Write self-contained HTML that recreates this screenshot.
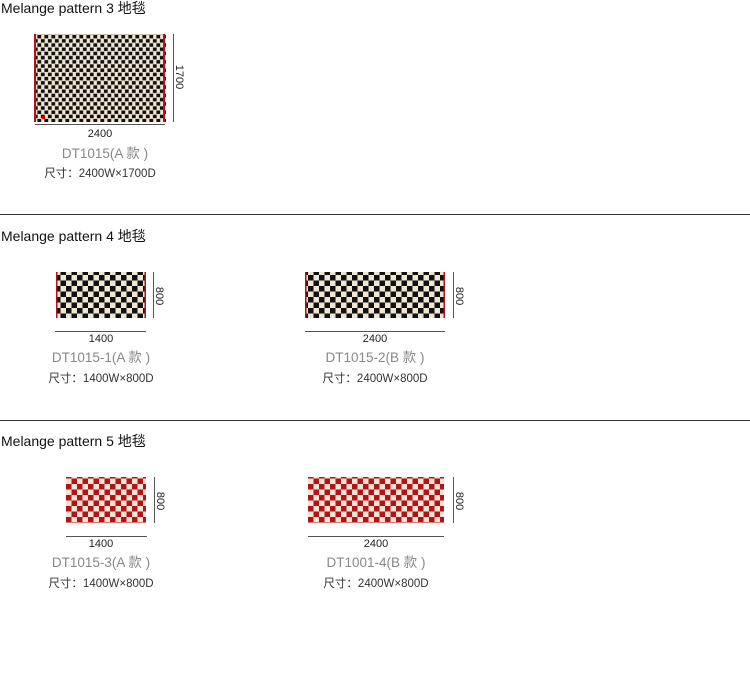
<!DOCTYPE html>
<html><head><meta charset="utf-8"><style>
body{margin:0;background:#fff;}
svg{display:block;font-family:"Liberation Sans","Noto Sans CJK SC",sans-serif;}
</style></head><body>
<svg width="750" height="687" viewBox="0 0 750 687">
<defs>
<pattern id="dots" x="37" y="34.5" width="7" height="8.4" patternUnits="userSpaceOnUse">
<rect width="7" height="8.4" fill="#f1e6d4"/><rect x="0.4" y="0.4" width="3.8" height="3.5" fill="#111"/><rect x="3.9" y="4.6" width="3.8" height="3.5" fill="#111"/><rect x="-3.1" y="4.6" width="3.8" height="3.5" fill="#111"/>
</pattern>
<pattern id="chk" x="0" y="0" width="11" height="11" patternUnits="userSpaceOnUse">
<rect width="11" height="11" fill="#f1e6d4"/><rect width="5.5" height="5.5" fill="#111"/><rect x="5.5" y="5.5" width="5.5" height="5.5" fill="#111"/>
</pattern>
<pattern id="red" x="0" y="0" width="11" height="11" patternUnits="userSpaceOnUse">
<rect width="11" height="11" fill="#f3e4d2"/><rect width="5.5" height="5.5" fill="#b3121a"/><rect x="5.5" y="5.5" width="5.5" height="5.5" fill="#b3121a"/>
</pattern>
</defs>
<g font-size="14" fill="#111">
<text x="1" y="13">Melange pattern 3 地毯</text>
<text x="1" y="241">Melange pattern 4 地毯</text>
<text x="1" y="446">Melange pattern 5 地毯</text>
</g>
<line x1="0" y1="214.5" x2="750" y2="214.5" stroke="#333"/>
<line x1="0" y1="420.5" x2="750" y2="420.5" stroke="#333"/>

<rect x="34" y="34" width="132" height="88" fill="url(#dots)"/>
<rect x="34" y="34" width="2" height="88" fill="#b3121a"/>
<rect x="163" y="34" width="2" height="88" fill="#b3121a"/>
<rect x="42" y="116" width="3" height="3" fill="#c00"/>
<line x1="173.5" y1="34" x2="173.5" y2="122" stroke="#555"/>
<line x1="35" y1="124.5" x2="165" y2="124.5" stroke="#555"/>
<text transform="translate(176,77) rotate(90)" font-size="11" text-anchor="middle" fill="#222">1700</text>
<text x="100" y="137" font-size="11" text-anchor="middle" fill="#222">2400</text>
<text x="105" y="158" font-size="13.5" text-anchor="middle" fill="#888">DT1015(A 款 )</text>
<text x="100" y="177" font-size="11.5" text-anchor="middle" fill="#333">尺寸：2400W×1700D</text>

<rect x="56" y="272" width="90" height="46" fill="url(#chk)"/>
<rect x="56" y="272" width="1.5" height="46" fill="#b3121a"/>
<rect x="144.5" y="272" width="1.5" height="46" fill="#b3121a"/>
<line x1="153.5" y1="272" x2="153.5" y2="318" stroke="#555"/>
<text transform="translate(156,296) rotate(90)" font-size="11" text-anchor="middle" fill="#222">800</text>
<line x1="55" y1="331.5" x2="146" y2="331.5" stroke="#555"/>
<text x="101" y="342" font-size="11" text-anchor="middle" fill="#222">1400</text>
<text x="101" y="362" font-size="13.5" text-anchor="middle" fill="#888">DT1015-1(A 款 )</text>
<text x="101" y="382" font-size="11.5" text-anchor="middle" fill="#333">尺寸：1400W×800D</text>

<rect x="305" y="272" width="140" height="46" fill="url(#chk)"/>
<rect x="305" y="272" width="1.5" height="46" fill="#b3121a"/>
<rect x="443.5" y="272" width="1.5" height="46" fill="#b3121a"/>
<line x1="453.5" y1="272" x2="453.5" y2="318" stroke="#555"/>
<text transform="translate(456,296) rotate(90)" font-size="11" text-anchor="middle" fill="#222">800</text>
<line x1="305" y1="331.5" x2="445" y2="331.5" stroke="#555"/>
<text x="375" y="342" font-size="11" text-anchor="middle" fill="#222">2400</text>
<text x="375" y="362" font-size="13.5" text-anchor="middle" fill="#888">DT1015-2(B 款 )</text>
<text x="375" y="382" font-size="11.5" text-anchor="middle" fill="#333">尺寸：2400W×800D</text>

<rect x="66" y="477" width="80" height="46" fill="url(#red)"/>
<line x1="154.5" y1="477" x2="154.5" y2="523" stroke="#555"/>
<text transform="translate(157,501) rotate(90)" font-size="11" text-anchor="middle" fill="#222">800</text>
<line x1="66" y1="536.5" x2="147" y2="536.5" stroke="#555"/>
<text x="101" y="547" font-size="11" text-anchor="middle" fill="#222">1400</text>
<text x="101" y="567" font-size="13.5" text-anchor="middle" fill="#888">DT1015-3(A 款 )</text>
<text x="101" y="587" font-size="11.5" text-anchor="middle" fill="#333">尺寸：1400W×800D</text>

<rect x="308" y="477" width="136" height="46" fill="url(#red)"/>
<line x1="453.5" y1="477" x2="453.5" y2="523" stroke="#555"/>
<text transform="translate(456,501) rotate(90)" font-size="11" text-anchor="middle" fill="#222">800</text>
<line x1="308" y1="536.5" x2="444" y2="536.5" stroke="#555"/>
<text x="376" y="547" font-size="11" text-anchor="middle" fill="#222">2400</text>
<text x="376" y="567" font-size="13.5" text-anchor="middle" fill="#888">DT1001-4(B 款 )</text>
<text x="376" y="587" font-size="11.5" text-anchor="middle" fill="#333">尺寸：2400W×800D</text>
</svg>
</body></html>
